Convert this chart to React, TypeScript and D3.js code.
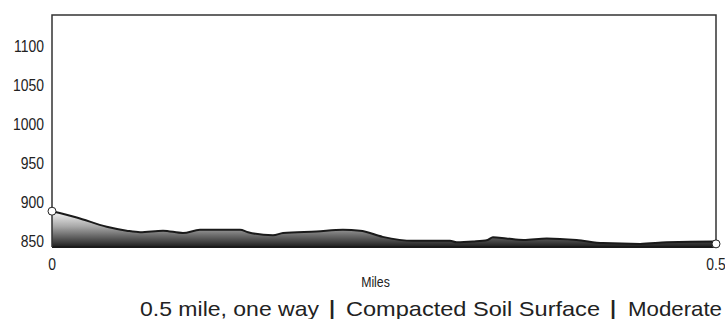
import React from "react";
import * as d3 from "d3";

const miles = [0, 0.0186, 0.0412, 0.0562, 0.0663, 0.0836, 0.0986, 0.1114, 0.1416, 0.1476, 0.1664, 0.174, 0.1993, 0.219, 0.232, 0.249, 0.272, 0.2997, 0.3047, 0.317, 0.328, 0.332, 0.342, 0.355, 0.3725, 0.395, 0.415, 0.4428, 0.4629, 0.4985, 0.5];
const elevation = [888, 880, 868, 863, 861, 863, 860, 864, 864, 861, 857, 860, 862, 864, 863, 855, 850, 850, 848, 849, 851, 854.5, 853, 851, 853, 851, 847, 846, 848, 849, 846];
const yTicks = [850, 900, 950, 1000, 1050, 1100];
const xTicks = [0, 0.5];
const xTickLabels = ["0", "0.5"];
const xTitle = "Miles";
const subtitleParts = ["0.5 mile, one way", "Compacted Soil Surface", "Moderate"];

const W = 725, H = 319;
const L = 52, R = 716, T = 15, B = 247;
const SX = 0.82;
const partX = [140, 346, 628];
const partLen = [179, 254, 94];
const pipeX = [332, 613];

export default function App() {
  const x = d3.scaleLinear().domain([0, 0.5]).range([L, R]);
  const y = d3.scaleLinear().domain([842, 1140]).range([B, T]);
  const pts = miles.map((m, i) => [m, elevation[i]] as [number, number]);
  const area = d3.area<[number, number]>().x(d => x(d[0])).y0(B).y1(d => y(d[1])).curve(d3.curveMonotoneX);
  const line = d3.line<[number, number]>().x(d => x(d[0])).y(d => y(d[1])).curve(d3.curveMonotoneX);
  const first = pts[0], last = pts[pts.length - 1];
  const font = "Arial, 'Liberation Sans', sans-serif";
  return (
    <svg width={W} height={H} style={{ position: "absolute", left: 0, top: 0 }}>
      <defs>
        <linearGradient id="g" gradientUnits="userSpaceOnUse" x1="0" y1={y(890)} x2="0" y2={B}>
          <stop offset="0" stopColor="#ffffff" />
          <stop offset="0.45" stopColor="#a8a8a8" />
          <stop offset="1" stopColor="#1e1e1e" />
        </linearGradient>
      </defs>
      <path d={area(pts) || ""} fill="url(#g)" />
      <path d={line(pts) || ""} fill="none" stroke="#1a1a1a" strokeWidth={2} />
      <line x1={L} y1={B} x2={R} y2={B} stroke="#1a1a1a" strokeWidth={2} />
      <path d={`M${L},${B}V${T}H${R}V${B}`} fill="none" stroke="#333" strokeWidth={1.5} />
      {yTicks.map(t => (
        <text key={t} transform={`translate(${L - 8},${y(t) + 6}) scale(${SX},1)`} textAnchor="end" fontFamily={font} fontSize={17} fill="#222">{t}</text>
      ))}
      {xTicks.map((t, i) => (
        <text key={t} transform={`translate(${x(t)},${269.5}) scale(${SX},1)`} textAnchor="middle" fontFamily={font} fontSize={17} fill="#222">{xTickLabels[i]}</text>
      ))}
      <circle cx={x(first[0])} cy={y(first[1])} r={4} fill="#fff" stroke="#222" strokeWidth={1} />
      <circle cx={x(last[0])} cy={y(last[1])} r={4} fill="#fff" stroke="#222" strokeWidth={1} />
      <text transform={`translate(375.5,287) scale(0.88,1)`} textAnchor="middle" fontFamily={font} fontSize={14} fill="#222">{xTitle}</text>
      {subtitleParts.map((s, i) => (
        <text key={s} x={partX[i]} y={315.5} fontFamily={font} fontSize={21} fill="#222" textLength={partLen[i]} lengthAdjust="spacingAndGlyphs" style={{ whiteSpace: "pre" }}>{s}</text>
      ))}
      {pipeX.map(px => (
        <text key={px} x={px} y={315} textAnchor="middle" fontFamily={font} fontSize={20} fontWeight="bold" fill="#222">|</text>
      ))}
    </svg>
  );
}
